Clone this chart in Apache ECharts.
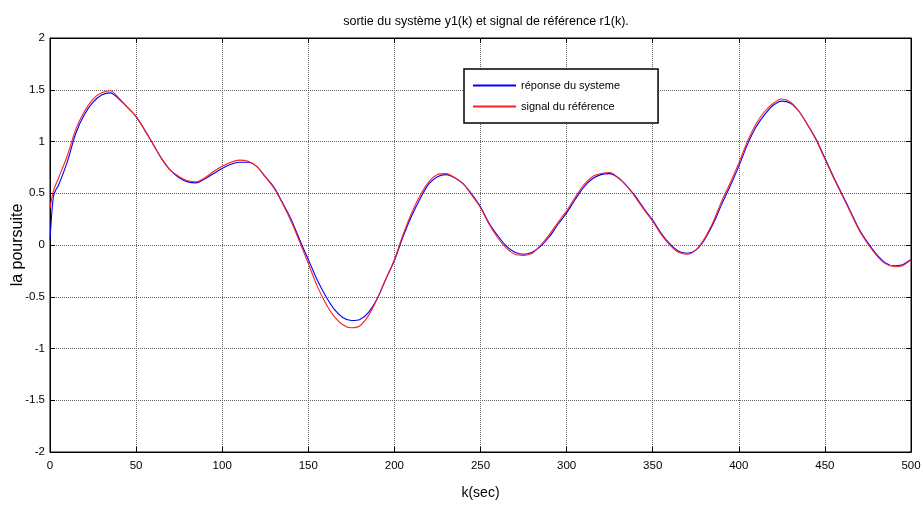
<!DOCTYPE html>
<html>
<head>
<meta charset="utf-8">
<script src="https://cdn.jsdelivr.net/npm/echarts@6/dist/echarts.min.js"></script>
<style>html,body{margin:0;padding:0;background:#fff;}#chart{width:924px;height:505px;}</style>
</head>
<body>
<div id="chart"></div>
<script>
var kValues = [0,1,2,3,5,10,15,20,25,30,35,40,45,50,55,60,65,70,75,80,85,90,95,100,105,110,115,120,125,130,135,140,145,150,155,160,165,170,175,180,185,190,195,200,205,210,215,220,225,230,235,240,245,250,255,260,265,270,275,280,285,290,295,300,305,310,315,320,325,330,335,340,345,350,355,360,365,370,375,380,385,390,395,400,405,410,415,420,425,430,435,440,445,450,455,460,465,470,475,480,485,490,495,500];
var yResponse = [0.05,0.30,0.47,0.52,0.58,0.80,1.08,1.26,1.38,1.45,1.47,1.41,1.33,1.24,1.11,0.97,0.83,0.72,0.65,0.61,0.60,0.64,0.69,0.74,0.78,0.80,0.80,0.76,0.66,0.56,0.41,0.25,0.05,-0.14,-0.33,-0.49,-0.62,-0.70,-0.73,-0.72,-0.65,-0.52,-0.33,-0.15,0.08,0.28,0.45,0.59,0.66,0.68,0.65,0.59,0.49,0.37,0.21,0.09,-0.01,-0.07,-0.09,-0.07,-0.01,0.08,0.20,0.31,0.44,0.56,0.64,0.68,0.69,0.65,0.57,0.47,0.35,0.24,0.11,0.01,-0.06,-0.08,-0.05,0.05,0.20,0.39,0.57,0.76,0.97,1.14,1.26,1.35,1.39,1.37,1.29,1.16,1.02,0.84,0.66,0.49,0.32,0.15,0.02,-0.09,-0.17,-0.20,-0.19,-0.14];
var rReference = [0.35,0.45,0.52,0.57,0.65,0.86,1.12,1.29,1.41,1.47,1.49,1.42,1.33,1.24,1.11,0.97,0.83,0.72,0.66,0.62,0.61,0.65,0.71,0.76,0.80,0.82,0.81,0.76,0.66,0.55,0.40,0.23,0.03,-0.18,-0.39,-0.56,-0.69,-0.77,-0.80,-0.78,-0.68,-0.52,-0.33,-0.14,0.10,0.31,0.48,0.61,0.68,0.69,0.65,0.59,0.48,0.36,0.20,0.07,-0.03,-0.09,-0.10,-0.08,0.00,0.10,0.22,0.33,0.46,0.58,0.66,0.69,0.70,0.65,0.57,0.46,0.34,0.23,0.10,0.00,-0.07,-0.09,-0.05,0.06,0.22,0.42,0.60,0.79,1.00,1.17,1.29,1.37,1.41,1.38,1.29,1.16,1.01,0.83,0.65,0.48,0.31,0.14,0.01,-0.10,-0.18,-0.21,-0.20,-0.14];
var seriesNames = ['réponse du systeme', 'signal du référence'];
var titleText = 'sortie du système y1(k) et signal de référence r1(k).';
var xLabel = 'k(sec)';
var yLabel = 'la poursuite';

var narrow = '"Liberation Sans Narrow", "Arial Narrow", "Liberation Sans", Arial, sans-serif';
function pairs(ys){ return kValues.map(function(k,i){ return [k, ys[i]]; }); }

var chart = echarts.init(document.getElementById('chart'), null, {renderer:'canvas'});
var gridLine = {show:true, lineStyle:{color:'#666', type:'dotted', width:1}};
chart.setOption({
  animation:false,
  backgroundColor:'#fff',
  title:{text:titleText, left:481, textAlign:'center', top:10,
    textStyle:{fontFamily:narrow, fontSize:12.5, fontWeight:'normal', color:'#000'}},
  grid:{left:50, right:13, top:38, bottom:53, containLabel:false, outerBoundsMode:'none',
    show:true, borderColor:'#000', borderWidth:1, backgroundColor:'#fff'},
  legend:{orient:'vertical', left:464, top:69,
    padding:[11,38,11,8], itemGap:10, itemWidth:43, itemHeight:12,
    backgroundColor:'#fff', borderColor:'#000', borderWidth:1.5,
    itemStyle:{opacity:0},
    textStyle:{fontFamily:narrow, fontSize:11, color:'#000'},
    data:seriesNames},
  xAxis:[{type:'value', min:0, max:500, interval:50,
    name:xLabel, nameLocation:'middle', nameGap:34, nameMoveOverlap:false,
    nameTextStyle:{fontFamily:narrow, fontSize:14, color:'#000'},
    axisLine:{show:true, onZero:false, lineStyle:{color:'#000', width:1}},
    axisTick:{show:true, inside:true, length:5, lineStyle:{color:'#000'}},
    axisLabel:{fontFamily:narrow, fontSize:11.5, color:'#000', margin:8},
    splitLine:gridLine},
   {type:'value', position:'top', min:0, max:500, interval:50,
    axisLine:{show:true, onZero:false, lineStyle:{color:'#000'}},
    axisTick:{show:true, inside:true, length:5, lineStyle:{color:'#000'}},
    axisLabel:{show:false}, splitLine:{show:false}}],
  yAxis:[{type:'value', min:-2, max:2, interval:0.5,
    name:yLabel, nameLocation:'middle', nameGap:24, nameRotate:90, nameMoveOverlap:false,
    nameTextStyle:{fontFamily:'"Liberation Sans", Arial, sans-serif', fontSize:16, color:'#000'},
    axisLine:{show:true, onZero:false, lineStyle:{color:'#000', width:1}},
    axisTick:{show:true, inside:true, length:5, lineStyle:{color:'#000'}},
    axisLabel:{fontFamily:narrow, fontSize:11.5, color:'#000', margin:5},
    splitLine:gridLine},
   {type:'value', position:'right', min:-2, max:2, interval:0.5,
    axisLine:{show:true, onZero:false, lineStyle:{color:'#000'}},
    axisTick:{show:true, inside:true, length:5, lineStyle:{color:'#000'}},
    axisLabel:{show:false}, splitLine:{show:false}}],
  series:[
    {name:seriesNames[0], type:'line', data:pairs(yResponse), smooth:0.3, symbol:'none',
     lineStyle:{color:'#0000ff', width:1.1}, itemStyle:{color:'#0000ff'}},
    {name:seriesNames[1], type:'line', data:pairs(rReference), smooth:0.3, symbol:'none',
     lineStyle:{color:'#ff2020', width:1.1}, itemStyle:{color:'#ff2020'}}
  ]
});
</script>
</body>
</html>
